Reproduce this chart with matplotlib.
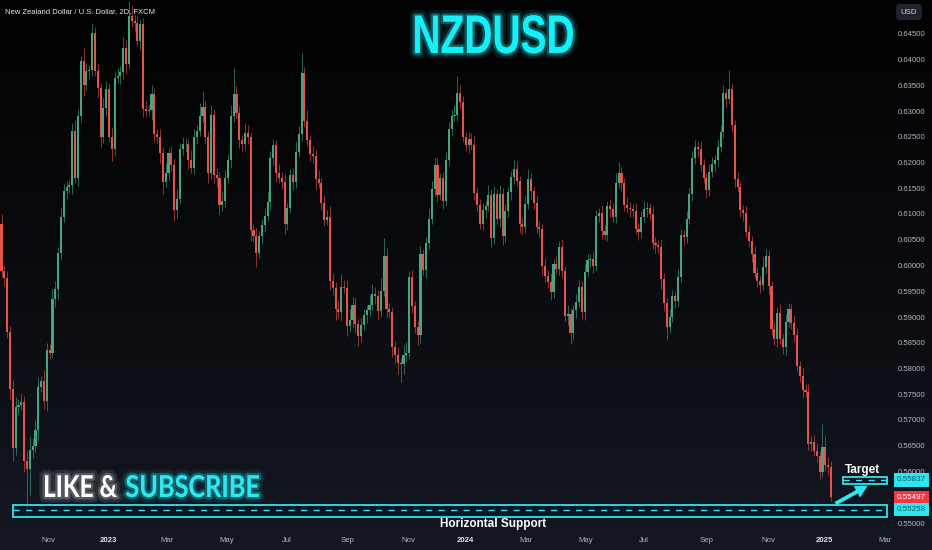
import numpy as np
import matplotlib
matplotlib.use("Agg")
import matplotlib.pyplot as plt
import matplotlib.patheffects as pe
from matplotlib.patches import Rectangle, FancyArrowPatch, PathPatch
from matplotlib.textpath import TextPath
from matplotlib.font_manager import FontProperties
from matplotlib.transforms import Affine2D, IdentityTransform

# closing prices in pips (x 0.0001); each candle opens at the previous close
first_open = 6080
close_a = [5990, 5975, 5870, 5760, 5645, 5725, 5730, 5735, 5620, 5605,
           5642, 5650, 5680, 5765, 5775, 5736, 5835, 5830, 5935, 5955,
           6025, 6095, 6144, 6152, 6156, 6262, 6170, 6291, 6397, 6350,
           6378, 6380, 6452, 6378, 6345, 6250, 6305, 6343, 6250, 6227,
           6365, 6368, 6375, 6423, 6392, 6484, 6475, 6470, 6436, 6468,
           6304, 6300, 6302, 6333, 6255, 6250, 6218, 6163, 6180, 6218,
           6195, 6108, 6130, 6227, 6235, 6236, 6205, 6190, 6250, 6262,
           6290, 6307, 6250, 6180, 6293, 6175, 6170, 6118, 6125]
close_b = [6170, 6205, 6291, 6333, 6297, 6243, 6235, 6258, 6250, 6068,
           6057, 6025, 6057, 6078, 6097, 6123, 6208, 6234, 6180, 6170,
           6163, 6081, 6112, 6175, 6162, 6220, 6256, 6374, 6281, 6243,
           6217, 6212, 6167, 6160, 6122, 6089, 6095, 5970, 5957, 5915,
           5910, 5959, 5957, 5883, 5895, 5924, 5886, 5863, 5884, 5903,
           5913, 5924, 5944, 5940, 5912, 5950, 6019, 5915, 5910, 5842,
           5826, 5810, 5808, 5827, 5831, 5977, 5922, 5881, 5865, 6023,
           5991, 6044, 6091, 6149, 6196, 6137, 6170, 6125]
close_c = [6205, 6266, 6291, 6293, 6335, 6318, 6250, 6234, 6245, 6234,
           6140, 6118, 6080, 6107, 6115, 6136, 6053, 6139, 6090, 6139,
           6057, 6105, 6143, 6171, 6187, 6164, 6081, 6075, 6119, 6167,
           6144, 6122, 6074, 6070, 5999, 5980, 5967, 5948, 6003, 5994,
           6036, 5990, 5902, 5905, 5868, 5914, 5930, 5959, 5909, 5988,
           6010, 6012, 6000, 6096, 6102, 6067, 6060, 6115, 6110, 6095,
           6160, 6179, 6160, 6118, 6112, 6109, 6106, 6071, 6065, 6095,
           6110, 6112, 6100, 6043, 6040, 6036, 5973, 5927]
close_d = [5880, 5900, 5940, 5932, 5978, 6059, 6055, 6090, 6138, 6208,
           6231, 6226, 6195, 6170, 6147, 6182, 6198, 6204, 6230, 6260,
           6335, 6323, 6342, 6272, 6167, 6152, 6107, 6101, 6066, 6047,
           6022, 5986, 5970, 5962, 5998, 6018, 5960, 5876, 5857, 5908,
           5857, 5841, 5890, 5916, 5889, 5866, 5805, 5786, 5758, 5755,
           5654, 5658, 5640, 5630, 5600, 5648, 5613, 5608, 5550]

# upper / lower wick lengths in pips
wick_up_a = [20, 10, 15, 12, 18, 20, 10, 15, 12, 20, 25, 15, 20, 18, 10, 22, 15, 12, 20, 15,
             10, 18, 15, 12, 10, 15, 20, 12, 10, 25, 15, 10, 18, 12, 15, 10, 20, 15, 12, 18,
             10, 15, 12, 20, 15, 30, 20, 12, 15, 10, 12, 15, 10, 18, 12, 10, 15, 12, 20, 10,
             15, 12, 18, 10, 15, 12, 10, 20, 15, 10, 25, 30, 15, 12, 18, 10, 15, 12, 20]
wick_dn_a = [12, 15, 10, 20, 25, 12, 15, 10, 20, 95, 50, 15, 12, 20, 10, 15, 18, 12, 10, 15,
             20, 12, 10, 15, 12, 18, 10, 15, 12, 20, 10, 15, 12, 10, 18, 20, 12, 15, 10, 25,
             12, 10, 15, 12, 20, 10, 12, 15, 10, 18, 15, 12, 10, 20, 15, 12, 18, 25, 10, 15,
             12, 22, 15, 10, 12, 15, 18, 10, 12, 15, 10, 12, 15, 20, 12, 15, 18, 20, 12]
wick_up_b = [15, 12, 20, 50, 15, 12, 10, 18, 15, 10, 12, 15, 10, 12, 15, 20, 15, 12, 10, 18,
             12, 15, 10, 12, 15, 20, 15, 38, 12, 20, 10, 15, 12, 18, 10, 15, 12, 20, 15, 10,
             18, 25, 12, 15, 20, 15, 12, 10, 15, 12, 10, 18, 20, 15, 12, 25, 34, 15, 12, 10,
             12, 15, 10, 18, 20, 12, 15, 10, 12, 15, 10, 12, 18, 15, 12, 15, 10, 12]
wick_dn_b = [12, 10, 15, 12, 10, 15, 12, 10, 15, 20, 12, 27, 10, 15, 12, 10, 15, 12, 18, 10,
             15, 20, 12, 10, 15, 12, 10, 15, 12, 10, 15, 12, 20, 10, 15, 12, 10, 18, 15, 20,
             12, 15, 10, 20, 12, 15, 18, 20, 12, 10, 15, 12, 10, 15, 18, 12, 10, 15, 12, 20,
             15, 20, 35, 18, 12, 10, 15, 12, 20, 15, 10, 15, 12, 10, 15, 12, 10, 15]
wick_up_c = [15, 12, 10, 18, 32, 15, 12, 10, 15, 12, 18, 10, 12, 15, 10, 20, 12, 15, 10, 18,
             12, 15, 10, 12, 18, 15, 10, 12, 15, 20, 12, 10, 15, 12, 10, 15, 12, 18, 10, 15,
             12, 15, 10, 18, 12, 10, 15, 12, 10, 15, 12, 10, 15, 12, 10, 15, 12, 10, 15, 12,
             20, 22, 12, 10, 15, 12, 10, 15, 12, 10, 15, 12, 10, 15, 12, 10, 15, 12]
wick_dn_c = [10, 12, 15, 10, 12, 15, 10, 12, 15, 10, 12, 15, 10, 12, 15, 10, 18, 12, 10, 15,
             18, 12, 10, 15, 12, 10, 18, 15, 12, 10, 15, 12, 10, 15, 18, 12, 10, 15, 12, 10,
             12, 15, 10, 18, 20, 12, 15, 10, 12, 15, 10, 12, 15, 10, 12, 15, 10, 12, 15, 10,
             12, 10, 15, 12, 10, 15, 12, 10, 15, 12, 10, 15, 12, 10, 15, 12, 18, 15]
wick_up_d = [10, 15, 12, 10, 15, 12, 10, 15, 12, 15, 12, 10, 15, 12, 10, 15, 12, 10, 15, 12,
             15, 10, 38, 12, 10, 15, 12, 10, 15, 12, 10, 15, 12, 10, 18, 15, 12, 10, 15, 12,
             18, 10, 15, 12, 10, 15, 12, 10, 15, 12, 15, 10, 12, 15, 10, 45, 20, 15, 12]
wick_dn_d = [25, 12, 10, 15, 12, 10, 15, 12, 10, 12, 10, 15, 12, 10, 15, 12, 10, 15, 12, 10,
             12, 15, 10, 12, 15, 10, 12, 15, 10, 12, 15, 10, 12, 15, 10, 12, 15, 10, 12, 15,
             10, 12, 15, 10, 12, 15, 10, 12, 15, 10, 12, 15, 10, 12, 15, 10, 12, 15, 8]

month_labels = ["Nov", "2023", "Mar", "May", "Jul", "Sep", "Nov", "2024",
                "Mar", "May", "Jul", "Sep", "Nov", "2025", "Mar"]
month_px = [48, 108, 167, 227, 287, 348, 408, 465, 526, 586, 644, 707, 768, 824, 885]
price_ticks = np.arange(0.550, 0.6451, 0.005)

support_lo, support_mid, support_hi = 0.55117, 0.55258, 0.55350
target_lo, target_mid, target_hi = 0.55751, 0.55837, 0.55899
last_price = 0.55497

UP = "#45a57f"
DOWN = "#e5534b"
CYAN = "#2ee6ef"
TXT = "#b2b5be"
SANS = ["Liberation Sans", "DejaVu Sans"]

# layout (pixels of the 932x550 picture)
W, H = 932, 550
AX_W, AX_BOT = 888, 533
PX0, STEP = 1.5, 2.831
Y0_PX, PX_PER_UNIT = 523, 5150


def xi(px):
    return (px - PX0) / STEP


def py(ypx):
    return 0.55 + (Y0_PX - ypx) / PX_PER_UNIT


# text drawn as a path, squeezed into a given pixel box
def path_text(fig, s, x0, x1, base, cap, family, color, effects):
    tp = TextPath((0, 0), s, size=100, prop=FontProperties(family=family, weight="bold"))
    ext = tp.get_extents()
    tr = Affine2D().translate(-ext.x0, 0).scale((x1 - x0) / ext.width, cap / ext.y1)
    tr = tr.translate(x0, H - base)
    patch = PathPatch(tr.transform_path(tp), facecolor=color, edgecolor="none",
                      transform=IdentityTransform())
    patch.set_path_effects(effects)
    fig.add_artist(patch)


def glow(outer, inner, a1, a2):
    return [pe.Stroke(linewidth=8, foreground=outer, alpha=a1, joinstyle="round", capstyle="round"),
            pe.Stroke(linewidth=3.5, foreground=inner, alpha=a2, joinstyle="round", capstyle="round"),
            pe.Normal()]


def main():
    closes = np.array(close_a + close_b + close_c + close_d) / 1e4
    opens = np.concatenate([[first_open / 1e4], closes[:-1]])
    up = np.array(wick_up_a + wick_up_b + wick_up_c + wick_up_d) / 1e4
    dn = np.array(wick_dn_a + wick_dn_b + wick_dn_c + wick_dn_d) / 1e4
    highs = np.maximum(opens, closes) + up
    lows = np.minimum(opens, closes) - dn
    x = np.arange(len(closes))
    colors = np.where(closes >= opens, UP, DOWN)

    fig = plt.figure(figsize=(W / 100, H / 100), dpi=100)

    # gradient background over the whole picture
    bg = fig.add_axes([0, 0, 1, 1])
    t = np.linspace(0, 1, 256) ** 1.3
    top = np.array([0.01, 0.01, 0.012])
    bot = np.array([0.082, 0.094, 0.135])
    grad = (top[None, :] * (1 - t[:, None]) + bot[None, :] * t[:, None])[:, None, :]
    bg.imshow(grad, aspect="auto", extent=[0, 1, 0, 1], origin="upper")
    bg.axis("off")

    ax = fig.add_axes([0, (H - AX_BOT) / H, AX_W / W, AX_BOT / H])
    ax.patch.set_alpha(0)
    for s in ax.spines.values():
        s.set_visible(False)

    ax.vlines(x, lows, highs, colors=colors, linewidth=0.6, alpha=0.7, zorder=2)
    body = np.maximum(np.abs(closes - opens), 0.00008)
    ax.bar(x, body, bottom=np.minimum(opens, closes), width=0.74,
           color=colors, linewidth=0, zorder=3)

    ax.set_xlim(xi(0), xi(AX_W))
    ax.set_ylim(py(AX_BOT), py(0))

    ax.set_xticks([xi(p) for p in month_px])
    ax.set_xticklabels(month_labels)
    ax.tick_params(axis="x", length=0, pad=3, labelsize=5.6, colors=TXT)
    for lab in ax.get_xticklabels():
        lab.set_fontfamily(SANS)
        if lab.get_text().isdigit():
            lab.set_fontweight("bold")
            lab.set_color("#e0e3eb")

    ax.yaxis.tick_right()
    ax.set_yticks(price_ticks)
    ax.set_yticklabels([f"{p:.5f}" for p in price_ticks])
    ax.tick_params(axis="y", length=0, pad=7, labelsize=5.6, colors=TXT)
    for lab in ax.get_yticklabels():
        lab.set_fontfamily(SANS)

    # horizontal support zone
    x_left, x_right = xi(12.7), xi(886.7)
    ax.add_patch(Rectangle((x_left, support_lo), x_right - x_left, support_hi - support_lo,
                           facecolor=(0.05, 0.09, 0.14, 0.75), edgecolor=CYAN,
                           linewidth=1.3, zorder=4))
    ax.plot([x_left, x_right], [support_mid, support_mid], color=CYAN, lw=1,
            ls=(0, (4.5, 4.5)), zorder=5)

    # target zone
    tx_left = xi(842.7)
    ax.add_patch(Rectangle((tx_left, target_lo), x_right - tx_left, target_hi - target_lo,
                           facecolor=(0.05, 0.09, 0.14, 0.75), edgecolor=CYAN,
                           linewidth=1.3, zorder=4))
    ax.plot([tx_left, x_right], [target_mid, target_mid], color=CYAN, lw=1,
            ls=(0, (4.5, 4.5)), zorder=5)

    arrow = FancyArrowPatch((xi(833), py(505)), (xi(870), py(484.5)),
                            arrowstyle="simple,head_length=1.1,head_width=1.2,tail_width=0.35",
                            mutation_scale=8, color=CYAN, linewidth=0, zorder=6)
    ax.add_patch(arrow)

    ax.text(xi(862), py(473), "Target", ha="center", va="baseline",
            color="white", fontsize=8.5, fontweight="bold", family=SANS, zorder=7)
    ax.text(xi(493), py(527), "Horizontal Support", ha="center",
            va="baseline", color="white", fontsize=8.5, fontweight="bold",
            family=SANS, zorder=7, clip_on=False)

    # price labels on the right scale
    lx = 897 / AX_W
    yt = ax.get_yaxis_transform()
    for p, fc, tc in [(target_mid, CYAN, "#0f5d66"), (last_price, "#f23645", "white"),
                      (support_mid, CYAN, "#0f5d66")]:
        ax.text(lx, p, f"{p:.5f}", transform=yt, ha="left", va="center", fontsize=5.8,
                color=tc, family=SANS, clip_on=False, zorder=10,
                bbox=dict(boxstyle="square,pad=0.4", fc=fc, ec="none"))

    fig.text(909 / W, 1 - 12 / H, "USD", ha="center", va="center", fontsize=5.6, color="#d1d4dc",
             family=SANS,
             bbox=dict(boxstyle="round,pad=0.5,rounding_size=0.3", fc="#1e222d", ec="#2a2e39", lw=0.6))

    fig.text(5 / W, 1 - 13.5 / H, "New Zealand Dollar / U.S. Dollar, 2D, FXCM", ha="left",
             va="baseline", fontsize=5.5, color="#e6e8ee", family=SANS)

    path_text(fig, "NZDUSD", 415, 573, 53, 38, SANS, "#14f0f6",
              glow("#0a5f68", "#18d0da", 0.25, 0.35))
    path_text(fig, "LIKE &", 45, 117, 497, 22, ["Lato", "DejaVu Sans"], "white",
              glow("#8a8f99", "#d8dbe0", 0.2, 0.25))
    path_text(fig, "SUBSCRIBE", 126, 259, 497, 22, ["Lato", "DejaVu Sans"], "#2ee8f0",
              glow("#0a5f68", "#18d0da", 0.25, 0.35))

    fig.savefig("out.png", dpi=100)


if __name__ == "__main__":
    main()
